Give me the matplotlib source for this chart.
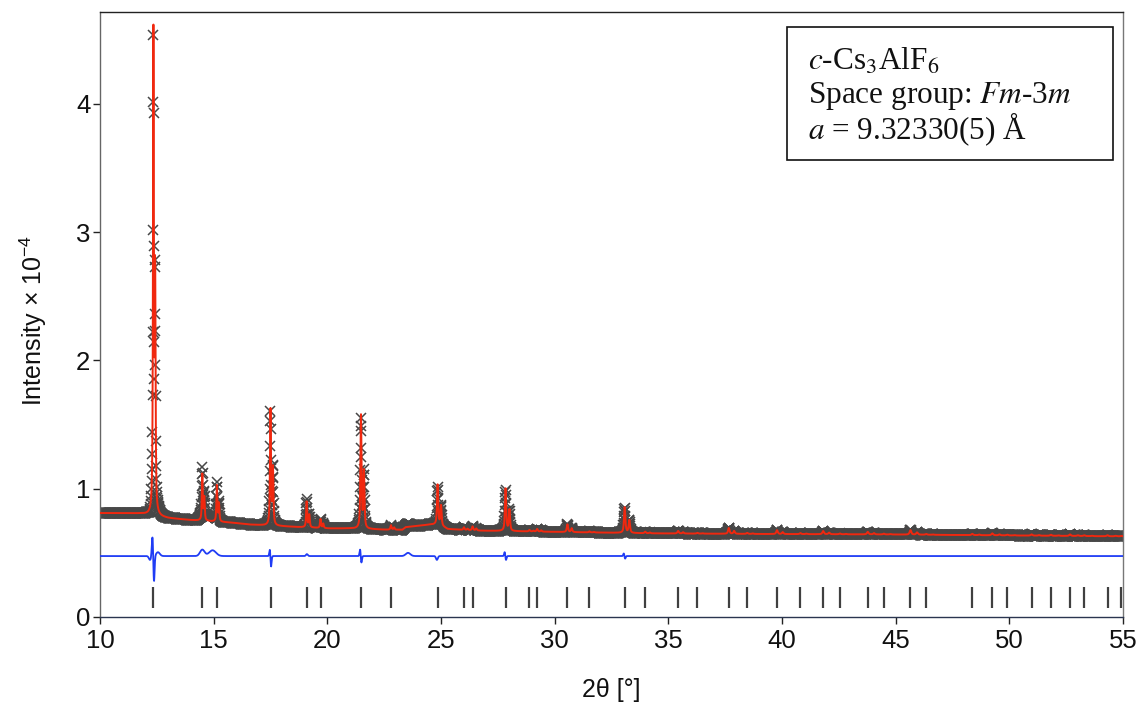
import numpy as np
import matplotlib
matplotlib.use("Agg")
import matplotlib.pyplot as plt
from matplotlib.patches import Rectangle

# ---------------- data ----------------
# Bragg reflection positions (2theta, deg) shown as tick marks
reflections = [12.35, 14.50, 15.14, 17.50, 19.09, 19.70, 21.48, 22.80, 24.85,
               26.01, 26.39, 27.84, 28.89, 29.23, 30.56, 31.53, 33.08, 33.98,
               35.43, 36.28, 37.66, 38.47, 39.78, 40.81, 41.81, 42.55, 43.77,
               44.48, 45.65, 46.34, 48.37, 49.25, 49.91, 50.98, 51.83, 52.67,
               53.29, 54.32, 54.93]
# net peak heights (Ka1) above background, x 10^-4
peak_height = [3.72, 0.36, 0.28, 0.90, 0.20, 0.07, 0.88, 0.035, 0.31,
               0.02, 0.03, 0.33, 0.012, 0.02, 0.06, 0.008, 0.20, 0.012,
               0.02, 0.006, 0.045, 0.008, 0.03, 0.008, 0.025, 0.006, 0.02,
               0.006, 0.035, 0.006, 0.01, 0.015, 0.006, 0.01, 0.008, 0.012,
               0.006, 0.008, 0.004]
# background anchor points
bg_x = [10.0, 11.0, 11.8, 13.0, 14.0, 15.8, 16.6, 18.8, 20.1, 21.0, 22.6,
        23.3, 23.45, 24.5, 24.9, 25.3, 26.7, 29.4, 34.2, 39.0, 45.0, 55.0]
bg_y = [0.81, 0.81, 0.805, 0.77, 0.755, 0.735, 0.72, 0.70, 0.69, 0.69, 0.68,
        0.68, 0.70, 0.72, 0.72, 0.685, 0.673, 0.665, 0.652, 0.647, 0.643, 0.628]
# misfit features (obs - calc): dispersive shapes and bumps
disp_pos = [12.34, 17.50, 21.47, 27.83, 33.07]
disp_amp = [-0.15, -0.05, -0.05, -0.03, -0.02]
disp_wid = [0.035, 0.03, 0.03, 0.03, 0.03]
bump_pos = [12.38, 12.20, 12.55, 14.50, 14.95, 17.52, 19.10, 23.55, 24.82]
bump_amp = [-0.05, -0.03, 0.03, 0.05, 0.045, -0.035, 0.015, 0.025, -0.03]
bump_wid = [0.02, 0.05, 0.08, 0.10, 0.15, 0.02, 0.04, 0.10, 0.04]
diff_offset = 0.475

x_ticks = [10, 15, 20, 25, 30, 35, 40, 45, 50, 55]
y_ticks = [0, 1, 2, 3, 4]

# ---------------- profile ----------------
tt = np.arange(10.0, 55.0001, 0.01)
bg = np.interp(tt, bg_x, bg_y)

def pvoigt(x, x0, fwhm, eta=0.7):
    d = (x - x0) / fwhm
    g = np.exp(-4 * np.log(2) * d ** 2)
    l = 1.0 / (1.0 + 4 * d ** 2)
    return eta * l + (1 - eta) * g

ratio = (0.71359 - 0.70932) / 0.70932  # Mo Ka2/Ka1
calc = bg.copy()
for p, h in zip(reflections, peak_height):
    w = 0.042 + 0.0012 * (p - 10)
    shift = np.degrees(2 * np.tan(np.radians(p / 2)) * ratio)
    calc += h * pvoigt(tt, p, w) + 0.5 * h * pvoigt(tt, p + shift, w)

resid = np.zeros_like(tt)
for p, a, s in zip(disp_pos, disp_amp, disp_wid):
    u = (tt - p) / s
    resid += a * u * np.exp(0.5 - u ** 2 / 2)
for p, a, s in zip(bump_pos, bump_amp, bump_wid):
    resid += a * np.exp(-0.5 * ((tt - p) / s) ** 2)

obs = calc + resid
diff = diff_offset + (obs - calc)

# ---------------- figure ----------------
plt.rcParams['mathtext.fontset'] = 'custom'
plt.rcParams['mathtext.rm'] = 'Liberation Sans'
plt.rcParams['mathtext.it'] = 'Liberation Sans:italic'
plt.rcParams['font.family'] = ['Liberation Sans', 'DejaVu Sans']

fig = plt.figure(figsize=(11.44, 7.08), dpi=100)
ax = fig.add_axes([100 / 1144, (708 - 617) / 708, 1023 / 1144, 605 / 708])

ax.plot(tt, obs, ls='none', marker='x', ms=7, mew=1.1, color='#474747', zorder=2)
ax.plot(tt, calc, color='#f0280f', lw=1.4, zorder=3)
ax.plot(tt, diff, color='#1f3cf5', lw=1.3, zorder=3)
ax.vlines(reflections, 0.07, 0.235, color='#404040', lw=1.6, zorder=3)

ax.set_xlim(10, 55)
ax.set_ylim(0, 4.715)
ax.set_xticks(x_ticks)
ax.set_yticks(y_ticks)
ax.tick_params(axis='both', direction='out', labelsize=18.5, length=5, width=1,
               colors='#222222', labelcolor='#111111')
ax.tick_params(axis='x', pad=4)
ax.tick_params(axis='y', pad=2)

for side, c in [('top', '#222222'), ('bottom', '#2a3550'), ('left', '#666666'), ('right', '#777777')]:
    ax.spines[side].set_color(c)
    ax.spines[side].set_linewidth(1.0)

ax.set_xlabel('2θ [°]', fontsize=18, color='#111111')
ax.xaxis.set_label_coords(0.5, -0.121)
ax.xaxis.label.set_va('center')
ax.set_ylabel('Intensity × 10$^{-4}$', fontsize=18, color='#111111')
ax.yaxis.set_label_coords(-0.0655, 0.49)
ax.yaxis.label.set_va('center')

# annotation box
fig.patches.append(Rectangle((787 / 1144, (708 - 160) / 708), 326 / 1144, 133 / 708,
                             transform=fig.transFigure, fill=False,
                             edgecolor='#111111', lw=1.2))
box_lines = [r'$c$-Cs$_3$AlF$_6$', r'Space group: $Fm$-3$m$', r'$a$ = 9.32330(5) Å']
baselines = [70, 103, 139]
for txt, yb in zip(box_lines, baselines):
    fig.text(808 / 1144, (708 - yb) / 708, txt, fontsize=22.5, family='Liberation Serif',
             math_fontfamily='stix', va='baseline', ha='left', color='#111111')

fig.savefig('out.png', dpi=100)
